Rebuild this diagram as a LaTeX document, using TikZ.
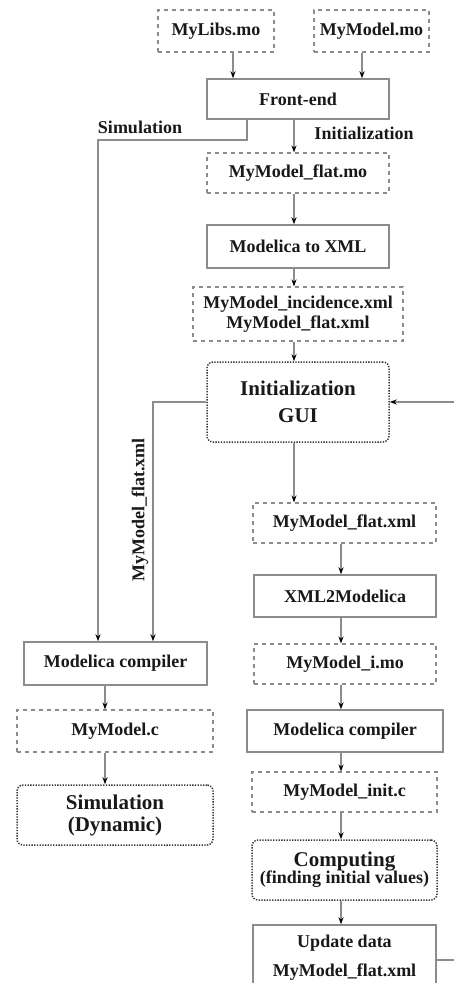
\documentclass[tikz,border=0pt]{standalone}
\usepackage{fontspec}
\setmainfont{Liberation Serif}
\usetikzlibrary{arrows.meta,calc}
\begin{document}
\begin{tikzpicture}[x=1pt,y=-1pt,
  txt/.style={font=\fontsize{18}{20}\selectfont\bfseries, text=black!90},
  big/.style={font=\fontsize{21}{23}\selectfont\bfseries, text=black!90},
  solidbox/.style={draw=black!45, line width=1.4pt, minimum height=#1, inner sep=0pt, align=center},
  solidbox/.default=42,
  dashbox/.style={draw=black!45, line width=1.1pt, dash pattern=on 4pt off 4pt, inner sep=0pt, align=center},
  dotbox/.style={draw=black!80, line width=1.5pt, dash pattern=on 1.3pt off 1.4pt, rounded corners=6pt, inner sep=0pt, align=center},
  conn/.style={draw=black!45, line width=1.2pt, -{Stealth[length=7pt,width=5pt,black]}},
  plain/.style={draw=black!45, line width=1.2pt}
]
\useasboundingbox (0,0) rectangle (454,983);
\fill[white] (0,0) rectangle (454,983);

% top row
\node[dashbox, txt, minimum width=116, minimum height=42] (lib) at (216,31) {MyLibs.mo};
\node[dashbox, txt, minimum width=115, minimum height=42] (mdl) at (371.5,31) {MyModel.mo};
\node[solidbox=40, txt, minimum width=182] (fe) at (298,99) {Front-end};
\node[dashbox, txt, minimum width=182, minimum height=40] (flatmo) at (298,173) {MyModel\_flat.mo};
\node[solidbox=43, txt, minimum width=182] (m2x) at (298,246.5) {Modelica to XML};
\node[dashbox, txt, minimum width=210, minimum height=54, font=\fontsize{18}{20}\selectfont\bfseries] (inc) at (298,314) {MyModel\_incidence.xml\\MyModel\_flat.xml};
\node[dotbox, big, minimum width=182, minimum height=80, font=\fontsize{21}{27}\selectfont\bfseries] (gui) at (298,402) {Initialization\\GUI};

% right column
\node[dashbox, txt, minimum width=183, minimum height=40] (fx) at (344.5,523) {MyModel\_flat.xml};
\node[solidbox=42, txt, minimum width=182] (x2m) at (345,596) {XML2Modelica};
\node[dashbox, txt, minimum width=182, minimum height=40] (imo) at (345,664) {MyModel\_i.mo};
\node[solidbox=42, txt, minimum width=196] (mcr) at (345,731) {Modelica compiler};
\node[dashbox, txt, minimum width=185, minimum height=40] (initc) at (344.5,792) {MyModel\_init.c};
\node[dotbox, minimum width=185, minimum height=60, align=center, text=black!90] (comp) at (344.5,870)
  {{\fontsize{21}{22}\selectfont\bfseries Computing}\\[-1pt]{\fontsize{18}{20}\selectfont\bfseries (finding initial values)}};
\node[solidbox=66, minimum width=183, font=\fontsize{18}{29}\selectfont\bfseries, text=black!90] (upd) at (344.5,958)
  {Update data\\MyModel\_flat.xml};

% left column
\node[solidbox=43, txt, minimum width=183] (mcl) at (115.5,663.5) {Modelica compiler};
\node[dashbox, txt, minimum width=196, minimum height=42] (mc) at (115,731) {MyModel.c};
\node[dotbox, minimum width=196, minimum height=60, font=\fontsize{21}{22}\selectfont\bfseries, text=black!90] (sim) at (115,815) {Simulation\\(Dynamic)};

% labels
\node[txt] (lsim) at (140,127) {Simulation};
\node[txt] (linit) at (364,133) {Initialization};
\node[txt, rotate=90] (lflat) at (140,510) {MyModel\_flat.xml};

% helper coordinates
\coordinate (xa) at (233,0);
\coordinate (xb) at (362,0);
\coordinate (xc) at (294,0);
\coordinate (xd) at (247,0);
\coordinate (xr) at (341,0);
\coordinate (xl) at (105,0);
\coordinate (k1) at (98,140);
\coordinate (k2) at (153,402);
\coordinate (k3) at (480,960);

% connectors
\draw[conn] (lib.south -| xa) -- (fe.north -| xa);
\draw[conn] (mdl.south -| xb) -- (fe.north -| xb);
\draw[conn] (fe.south -| xc) -- (flatmo.north -| xc);
\draw[conn] (flatmo.south -| xc) -- (m2x.north -| xc);
\draw[conn] (m2x.south -| xc) -- (inc.north -| xc);
\draw[conn] (inc.south -| xc) -- (gui.north -| xc);
\draw[conn] (fe.south -| xd) |- (k1) -- (mcl.north -| k1);
\draw[conn] (gui.west) -- (k2) -- (mcl.north -| k2);
\draw[conn] (gui.south -| xc) -- (fx.north -| xc);
\draw[conn] (fx.south -| xr) -- (x2m.north -| xr);
\draw[conn] (x2m.south -| xr) -- (imo.north -| xr);
\draw[conn] (imo.south -| xr) -- (mcr.north -| xr);
\draw[conn] (mcr.south -| xr) -- (initc.north -| xr);
\draw[conn] (initc.south -| xr) -- (comp.north -| xr);
\draw[conn] (comp.south -| xr) -- (upd.north -| xr);
\draw[conn] (upd.east |- k3) -- (k3) |- (gui.east);
\draw[conn] (mcl.south -| xl) -- (mc.north -| xl);
\draw[conn] (mc.south -| xl) -- (sim.north -| xl);
\end{tikzpicture}
\end{document}
